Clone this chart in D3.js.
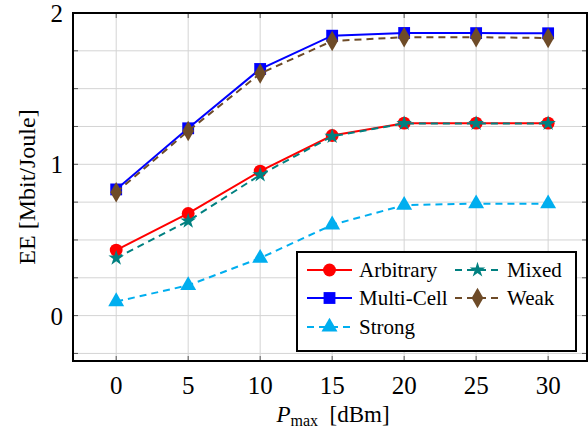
<!DOCTYPE html>
<html>
<head>
<meta charset="utf-8">
<script src="https://cdn.jsdelivr.net/npm/d3@7"></script>
<style>
  body { margin: 0; background: #fff; }
</style>
</head>
<body>
<div id="vis"></div>
<script>
const pmax = [0, 5, 10, 15, 20, 25, 30]
const arbitrary = [0.433, 0.675, 0.955, 1.19, 1.272, 1.272, 1.272]
const multiCell = [0.834, 1.238, 1.63, 1.85, 1.868, 1.867, 1.866]
const strong = [0.093, 0.2, 0.38, 0.6, 0.73, 0.74, 0.74]
const mixed = [0.38, 0.625, 0.93, 1.185, 1.27, 1.27, 1.27]
const weak = [0.815, 1.22, 1.6, 1.815, 1.84, 1.84, 1.835]
const xTicks = [0, 5, 10, 15, 20, 25, 30]
const yTicks = [0, 1, 2]

const series = [
  { name: 'Arbitrary', values: arbitrary, color: '#ff0000', dash: null, mark: 'circle' },
  { name: 'Multi-Cell', values: multiCell, color: '#0000ff', dash: null, mark: 'square' },
  { name: 'Strong', values: strong, color: '#00aeef', dash: '7,5', mark: 'triangle' },
  { name: 'Mixed', values: mixed, color: '#008080', dash: '7,5', mark: 'star' },
  { name: 'Weak', values: weak, color: '#6e4b28', dash: '7,5', mark: 'diamond' }
]
// draw order: keep weak/mixed on top of their solid partners
const drawOrder = ['Strong', 'Multi-Cell', 'Weak', 'Arbitrary', 'Mixed']

const width = 588
const height = 435
const margin = { top: 13, right: 1, bottom: 74, left: 73 }
const serif = "'Liberation Serif', 'Times New Roman', serif"

const svg = d3.select('#vis').append('svg')
  .attr('width', width).attr('height', height)
  .attr('font-family', serif)

const x = d3.scaleLinear().domain([-3, 32.7]).range([margin.left, width - margin.right])
const y = d3.scaleLinear().domain([-0.3, 2.0]).range([height - margin.bottom, margin.top])

const grid = svg.append('g').attr('stroke', '#d4d4d4').attr('stroke-width', 1)
xTicks.forEach(t => {
  grid.append('line').attr('x1', x(t)).attr('x2', x(t))
    .attr('y1', y.range()[1]).attr('y2', y.range()[0])
})
d3.range(-0.25, 2.0, 0.25).forEach(t => {
  grid.append('line').attr('x1', x.range()[0]).attr('x2', x.range()[1])
    .attr('y1', y(t)).attr('y2', y(t))
})

// inner tick marks on all four sides
const tk = svg.append('g').attr('stroke', '#555').attr('stroke-width', 1)
xTicks.forEach(t => {
  tk.append('line').attr('x1', x(t)).attr('x2', x(t)).attr('y1', y.range()[0]).attr('y2', y.range()[0] - 5)
  tk.append('line').attr('x1', x(t)).attr('x2', x(t)).attr('y1', y.range()[1]).attr('y2', y.range()[1] + 5)
})
d3.range(-0.25, 2.0, 0.25).forEach(t => {
  tk.append('line').attr('x1', x.range()[0]).attr('x2', x.range()[0] + 5).attr('y1', y(t)).attr('y2', y(t))
  tk.append('line').attr('x1', x.range()[1]).attr('x2', x.range()[1] - 5).attr('y1', y(t)).attr('y2', y(t))
})

const symbols = {
  circle: d3.symbol(d3.symbolCircle, 130),
  square: d3.symbol(d3.symbolSquare, 140),
  triangle: d3.symbol(d3.symbolTriangle, 110),
  star: d3.symbol(d3.symbolStar, 75),
  diamond: d3.symbol(d3.symbolDiamond, 120)
}

const line = d3.line().x((d, i) => x(pmax[i])).y(d => y(d))

drawOrder.forEach(n => {
  const s = series.find(d => d.name === n)
  svg.append('path')
    .attr('d', line(s.values))
    .attr('fill', 'none')
    .attr('stroke', s.color)
    .attr('stroke-width', 2)
    .attr('stroke-dasharray', s.dash)
  svg.selectAll(null).data(s.values).enter().append('path')
    .attr('transform', (d, i) => `translate(${x(pmax[i])},${y(d)})`)
    .attr('d', symbols[s.mark]())
    .attr('fill', s.color)
})

// frame
svg.append('rect')
  .attr('x', x.range()[0]).attr('y', y.range()[1])
  .attr('width', x.range()[1] - x.range()[0]).attr('height', y.range()[0] - y.range()[1])
  .attr('fill', 'none').attr('stroke', '#000').attr('stroke-width', 2)

// tick labels
svg.append('g').selectAll('text').data(xTicks).enter().append('text')
  .attr('x', d => x(d)).attr('y', 394)
  .attr('text-anchor', 'middle').attr('font-size', 25)
  .text(d => d)
svg.append('g').selectAll('text').data(yTicks).enter().append('text')
  .attr('x', 63).attr('y', d => y(d) + 9)
  .attr('text-anchor', 'end').attr('font-size', 25)
  .text(d => d)

// axis titles
const xl = svg.append('text').attr('x', 333).attr('y', 422)
  .attr('text-anchor', 'middle').attr('font-size', 23)
xl.append('tspan').attr('font-style', 'italic').text('P')
xl.append('tspan').attr('font-size', 16).attr('dy', 4).text('max')
xl.append('tspan').attr('dy', -4).text('\u2002[dBm]')

svg.append('text')
  .attr('transform', 'translate(35,187) rotate(-90)')
  .attr('text-anchor', 'middle').attr('font-size', 24)
  .text('EE [Mbit/Joule]')

// legend
const legend = svg.append('g').attr('transform', 'translate(297,252)')
legend.append('rect')
  .attr('width', 279).attr('height', 99)
  .attr('fill', '#fff').attr('stroke', '#000').attr('stroke-width', 2)

const legendPos = {
  'Arbitrary': [10, 18], 'Mixed': [158, 18],
  'Multi-Cell': [10, 46], 'Weak': [158, 46],
  'Strong': [10, 75]
}
series.forEach(s => {
  const [lx, ly] = legendPos[s.name]
  legend.append('line')
    .attr('x1', lx).attr('x2', lx + 45).attr('y1', ly).attr('y2', ly)
    .attr('stroke', s.color).attr('stroke-width', 2)
    .attr('stroke-dasharray', s.dash)
  legend.append('path')
    .attr('transform', `translate(${lx + 22.5},${ly})`)
    .attr('d', symbols[s.mark]())
    .attr('fill', s.color)
  legend.append('text')
    .attr('x', lx + 52).attr('y', ly + 7)
    .attr('font-size', 21)
    .text(s.name)
})
</script>
</body>
</html>
